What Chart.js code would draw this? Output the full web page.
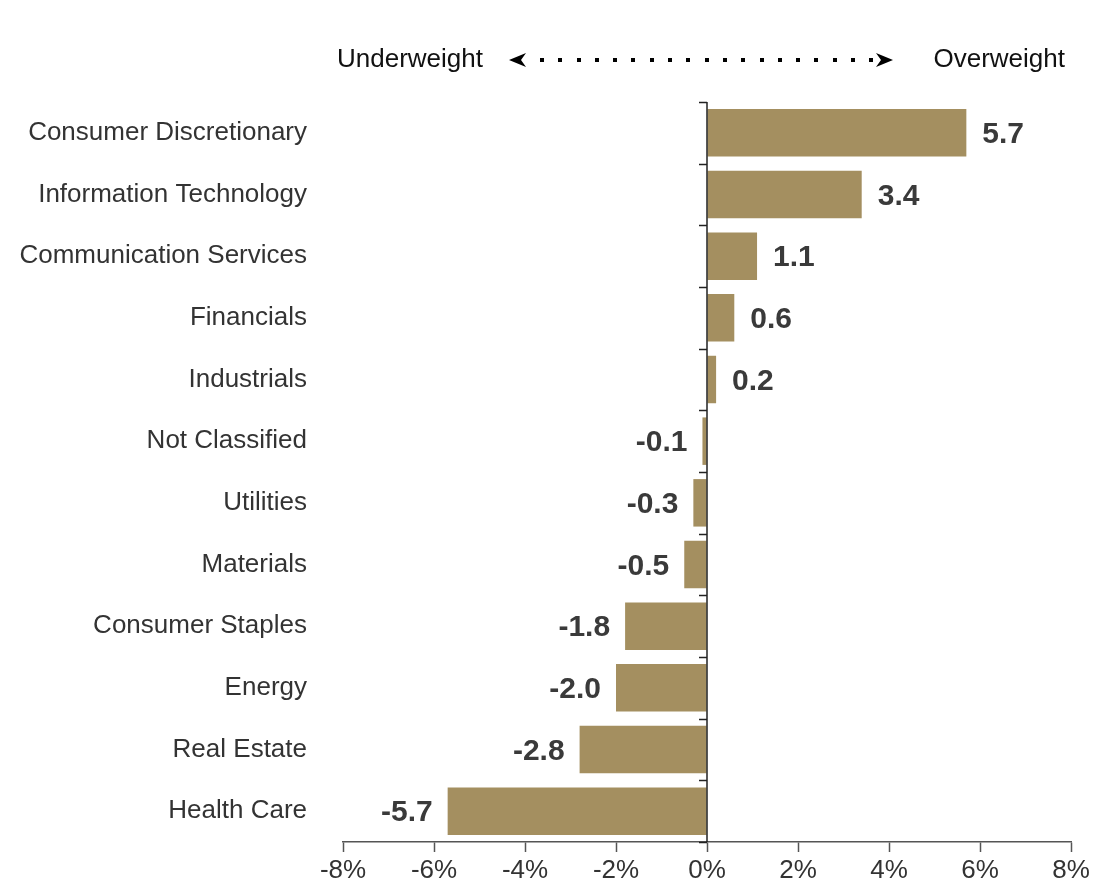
<!DOCTYPE html>
<html>
<head>
<meta charset="utf-8">
<script src="https://cdn.jsdelivr.net/npm/chart.js@4.4.1/dist/chart.umd.min.js"></script>
<style>
html,body{margin:0;padding:0;background:#fff;}
#wrap{width:1094px;height:886px;}
</style>
</head>
<body>
<div id="wrap"><canvas id="c" width="1094" height="886"></canvas></div>
<script>
const sectors=['Consumer Discretionary','Information Technology','Communication Services','Financials','Industrials','Not Classified','Utilities','Materials','Consumer Staples','Energy','Real Estate','Health Care'];
const weights=[5.7,3.4,1.1,0.6,0.2,-0.1,-0.3,-0.5,-1.8,-2.0,-2.8,-5.7];
const xTicks=[-8,-6,-4,-2,0,2,4,6,8];
const headerLeft='Underweight';
const headerRight='Overweight';

const BAR='#a48f60';
const TXT='#333333';
const FONT='"Liberation Sans", Arial, sans-serif';

// zero line, category ticks, value labels and the header arrow
const extras={
  id:'extras',
  afterDatasetsDraw(chart){
    const ctx=chart.ctx, x=chart.scales.x, y=chart.scales.y, area=chart.chartArea;
    const x0=x.getPixelForValue(0);
    ctx.save();
    ctx.strokeStyle='#222';
    ctx.lineWidth=1.5;
    ctx.beginPath();
    ctx.moveTo(x0,area.top);
    ctx.lineTo(x0,area.bottom);
    for(let i=0;i<=sectors.length;i++){
      const py=Math.round(y.getPixelForValue(i-0.5))+0.5;
      ctx.moveTo(x0-8,py);
      ctx.lineTo(x0,py);
    }
    ctx.stroke();

    // value labels
    ctx.font='bold 30px '+FONT;
    ctx.fillStyle='#3a3a3a';
    ctx.textBaseline='middle';
    const meta=chart.getDatasetMeta(0);
    meta.data.forEach((bar,i)=>{
      const v=weights[i];
      const txt=v.toFixed(1);
      if(v>=0){ ctx.textAlign='left'; ctx.fillText(txt,bar.x+16,bar.y+2); }
      else { ctx.textAlign='right'; ctx.fillText(txt,bar.x-15,bar.y+2); }
    });

    // header
    const hy=60;
    ctx.font='26px '+FONT;
    ctx.fillStyle='#111';
    ctx.textAlign='left';
    ctx.fillText(headerLeft,337,hy);
    ctx.textAlign='right';
    ctx.fillText(headerRight,1065,hy);
    ctx.fillStyle='#000';
    for(let dx=542;dx<=878;dx+=18.3){
      ctx.fillRect(Math.round(dx)-2,hy-2,4,4);
    }
    ctx.beginPath();
    ctx.moveTo(509,hy); ctx.lineTo(526,hy-7); ctx.lineTo(521,hy); ctx.lineTo(526,hy+7); ctx.closePath();
    ctx.moveTo(893,hy); ctx.lineTo(876,hy-7); ctx.lineTo(881,hy); ctx.lineTo(876,hy+7); ctx.closePath();
    ctx.fill();
    ctx.restore();
  }
};

new Chart(document.getElementById('c'),{
  type:'bar',
  data:{
    labels:sectors,
    datasets:[{data:weights,backgroundColor:BAR,borderWidth:0,barPercentage:0.77,categoryPercentage:1}]
  },
  options:{
    responsive:false,
    animation:false,
    indexAxis:'y',
    layout:{padding:{top:102,left:0,right:23,bottom:0}},
    plugins:{legend:{display:false},tooltip:{enabled:false}},
    scales:{
      x:{
        min:-8,max:8,
        afterBuildTicks(s){ s.ticks=xTicks.map(v=>({value:v})); },
        afterFit(s){ s.height=44; },
        ticks:{callback:v=>v+'%',font:{family:FONT,size:26},color:TXT,padding:3,maxRotation:0},
        grid:{drawOnChartArea:false,tickLength:10,tickColor:'#555',tickWidth:1.5},
        border:{color:'#555',width:1.5}
      },
      y:{
        afterFit(s){ s.width=343; s.paddingTop=0; s.paddingBottom=0; },
        grid:{display:false,drawTicks:false},
        border:{display:false},
        ticks:{font:{family:FONT,size:26},color:TXT,padding:36}
      }
    }
  },
  plugins:[extras]
});
</script>
</body>
</html>
